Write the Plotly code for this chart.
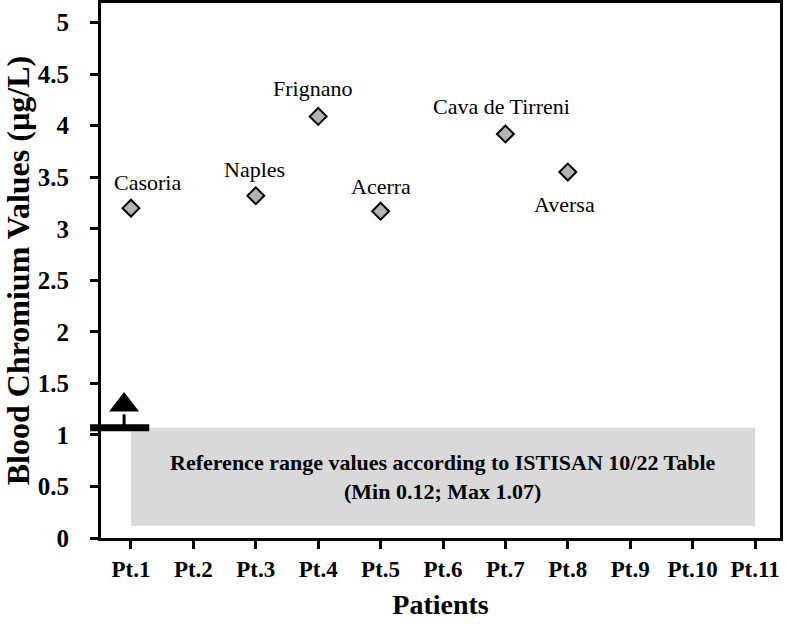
import plotly.graph_objects as go

patients = ["Pt.1", "Pt.2", "Pt.3", "Pt.4", "Pt.5", "Pt.6", "Pt.7", "Pt.8", "Pt.9", "Pt.10", "Pt.11"]
pt_index = [1, 3, 4, 5, 7, 8]
chromium = [3.20, 3.32, 4.09, 3.17, 3.92, 3.55]
towns = ["Casoria", "Naples", "Frignano", "Acerra", "Cava de Tirreni", "Aversa"]
ref_min = 0.12
ref_max = 1.07

serif = "Liberation Serif, Times New Roman, Tinos, serif"

fig = go.Figure()

# reference range box
fig.add_shape(type="rect", xref="x", yref="y", x0=1, x1=11, y0=ref_min, y1=ref_max,
              fillcolor="#d9d9d9", line_width=0, layer="below")
fig.add_annotation(x=6, y=(ref_min + ref_max) / 2, xref="x", yref="y", showarrow=False,
                   text="<b>Reference range values according to ISTISAN 10/22 Table<br>(Min 0.12; Max 1.07)</b>",
                   font=dict(family=serif, size=22, color="black"), align="center")

# max marker bar + up arrow
fig.add_shape(type="line", xref="paper", yref="y", x0=-0.016, x1=0.071, y0=ref_max, y1=ref_max,
              line=dict(color="black", width=7))
fig.add_shape(type="line", xref="x", yref="y", x0=0.89, x1=0.89, y0=ref_max, y1=ref_max + 0.13,
              line=dict(color="black", width=3))
fig.add_trace(go.Scatter(x=[0.89], y=[ref_max + 0.22], mode="markers", cliponaxis=False,
                         marker=dict(symbol="triangle-up", size=26, color="black"),
                         hoverinfo="skip", showlegend=False))

# patient values
fig.add_trace(go.Scatter(x=pt_index, y=chromium, mode="markers", showlegend=False,
                         marker=dict(symbol="diamond", size=13, color="#b3b3b3",
                                     line=dict(color="black", width=2))))

label_shift = {"Casoria": (17, 26), "Naples": (-1, 26), "Frignano": (-6, 28),
               "Acerra": (0, 25), "Cava de Tirreni": (-4, 27), "Aversa": (-3, -32)}
for i, name, v in zip(pt_index, towns, chromium):
    dx, dy = label_shift[name]
    fig.add_annotation(x=i, y=v, xref="x", yref="y", text=name, showarrow=False,
                       xshift=dx, yshift=dy, font=dict(family=serif, size=22, color="black"))

fig.update_xaxes(range=[0.52, 11.4], tickmode="array", tickvals=list(range(1, 12)),
                 ticktext=["<b>%s</b>" % p for p in patients], automargin=False,
                 showline=True, linecolor="black", linewidth=3, mirror=True,
                 ticks="outside", ticklen=8, tickwidth=3, tickcolor="black",
                 showgrid=False, zeroline=False,
                 tickfont=dict(family=serif, size=23, color="black"),
                 title=dict(text="<b>Patients</b>", font=dict(family=serif, size=28, color="black"), standoff=14))
fig.update_yaxes(range=[0, 5.19], tickmode="array", tickvals=[0, 0.5, 1, 1.5, 2, 2.5, 3, 3.5, 4, 4.5, 5],
                 ticktext=["<b>0</b>", "<b>0.5</b>", "<b>1</b>", "<b>1.5</b>", "<b>2</b>", "<b>2.5</b>",
                           "<b>3</b>", "<b>3.5</b>", "<b>4</b>", "<b>4.5</b>", "<b>5</b>"],
                 showline=True, linecolor="black", linewidth=3, mirror=True, automargin=False,
                 ticks="outside", ticklen=8, tickwidth=3, tickcolor="black",
                 showgrid=False, zeroline=False, ticklabelstandoff=16,
                 tickfont=dict(family=serif, size=25, color="black"),
                 title=dict(text="<b>Blood Chromium Values (µg/L)</b>",
                            font=dict(family=serif, size=32, color="black"), standoff=4))

fig.update_layout(width=787, height=630, margin=dict(l=101, r=7, t=3, b=92),
                  plot_bgcolor="white", paper_bgcolor="white")

fig.write_html("out.html", config={"displayModeBar": False},
               post_script="document.body.style.margin='0px';")
